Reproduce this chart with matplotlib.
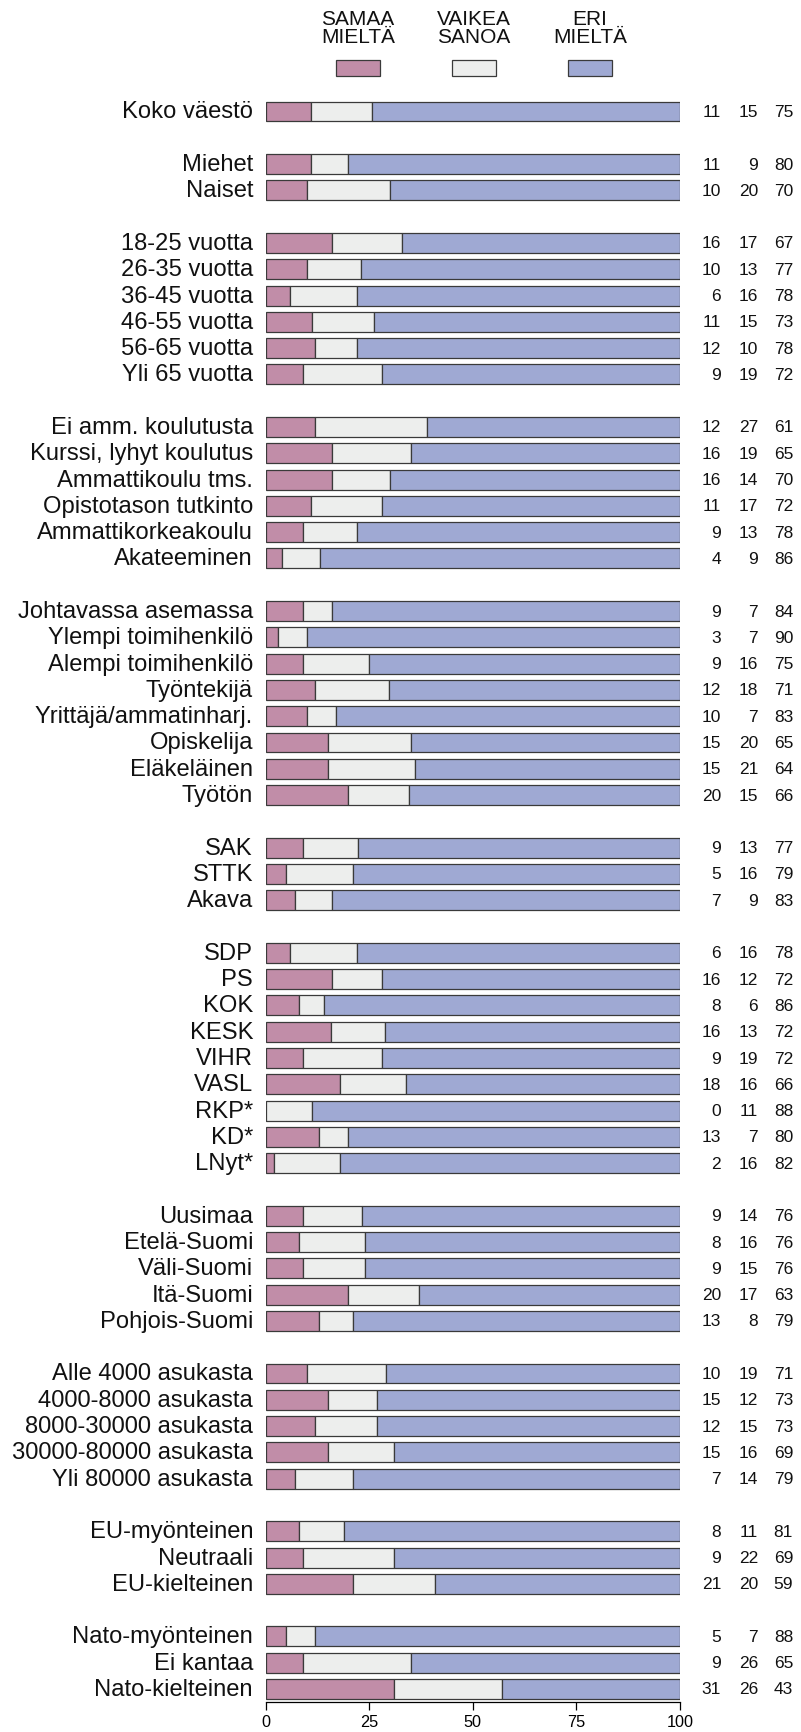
import numpy as np
import matplotlib
matplotlib.use("Agg")
import matplotlib.pyplot as plt
from matplotlib import font_manager
from matplotlib.patches import Rectangle
from matplotlib.transforms import blended_transform_factory


# groups of rows, separated by an empty slot
groups = [
    ["Koko väestö"],
    ["Miehet", "Naiset"],
    ["18-25 vuotta", "26-35 vuotta", "36-45 vuotta", "46-55 vuotta",
     "56-65 vuotta", "Yli 65 vuotta"],
    ["Ei amm. koulutusta", "Kurssi, lyhyt koulutus", "Ammattikoulu tms.",
     "Opistotason tutkinto", "Ammattikorkeakoulu", "Akateeminen"],
    ["Johtavassa asemassa", "Ylempi toimihenkilö", "Alempi toimihenkilö",
     "Työntekijä", "Yrittäjä/ammatinharj.", "Opiskelija", "Eläkeläinen",
     "Työtön"],
    ["SAK", "STTK", "Akava"],
    ["SDP", "PS", "KOK", "KESK", "VIHR", "VASL", "RKP*", "KD*", "LNyt*"],
    ["Uusimaa", "Etelä-Suomi", "Väli-Suomi", "Itä-Suomi", "Pohjois-Suomi"],
    ["Alle 4000 asukasta", "4000-8000 asukasta", "8000-30000 asukasta",
     "30000-80000 asukasta", "Yli 80000 asukasta"],
    ["EU-myönteinen", "Neutraali", "EU-kielteinen"],
    ["Nato-myönteinen", "Ei kantaa", "Nato-kielteinen"],
]

samaa = [11, 11, 10, 16, 10, 6, 11, 12, 9, 12, 16, 16, 11, 9, 4,
         9, 3, 9, 12, 10, 15, 15, 20, 9, 5, 7, 6, 16, 8, 16, 9, 18, 0, 13, 2,
         9, 8, 9, 20, 13, 10, 15, 12, 15, 7, 8, 9, 21, 5, 9, 31]
vaikea = [15, 9, 20, 17, 13, 16, 15, 10, 19, 27, 19, 14, 17, 13, 9,
          7, 7, 16, 18, 7, 20, 21, 15, 13, 16, 9, 16, 12, 6, 13, 19, 16, 11, 7, 16,
          14, 16, 15, 17, 8, 19, 12, 15, 16, 14, 11, 22, 20, 7, 26, 26]
eri = [75, 80, 70, 67, 77, 78, 73, 78, 72, 61, 65, 70, 72, 78, 86,
       84, 90, 75, 71, 83, 65, 64, 66, 77, 79, 83, 78, 72, 86, 72, 72, 66, 88, 80, 82,
       76, 76, 76, 63, 79, 71, 73, 73, 69, 79, 81, 69, 59, 88, 65, 43]

series_names = ["SAMAA\nMIELTÄ", "VAIKEA\nSANOA", "ERI\nMIELTÄ"]
colors = ["#C18DA8", "#EDEEED", "#9FA9D3"]
edge = "#3a3a3a"

available = {f.name for f in font_manager.fontManager.ttflist}
base_font = "Liberation Sans" if "Liberation Sans" in available else "DejaVu Sans"
narrow_font = "Liberation Sans Narrow" if "Liberation Sans Narrow" in available else base_font
plt.rcParams["font.family"] = [base_font, "DejaVu Sans"]

# row positions (slot index from top)
labels, ypos = [], []
slot = 0
for g in groups:
    for lab in g:
        labels.append(lab)
        ypos.append(slot)
        slot += 1
    slot += 1
ypos = np.array(ypos, dtype=float)

s = np.array(samaa, dtype=float)
v = np.array(vaikea, dtype=float)
e = np.array(eri, dtype=float)
tot = s + v + e
ps, pv, pe = s / tot * 100, v / tot * 100, e / tot * 100

W, H = 801, 1733
fig = plt.figure(figsize=(W / 100, H / 100), dpi=100)
x0, x1 = 265.5, 680.0
ytop, ybot = 100.0, 1703.0
ax = fig.add_axes([x0 / W, 1 - ybot / H, (x1 - x0) / W, (ybot - ytop) / H])

pitch = (1690 - 112.5) / 60
ax.set_ylim((ybot - 112.5) / pitch, (ytop - 112.5) / pitch)
ax.set_xlim(0, 100)

h = 0.76
ax.barh(ypos, ps, height=h, left=0, color=colors[0], edgecolor=edge, linewidth=0.9)
ax.barh(ypos, pv, height=h, left=ps, color=colors[1], edgecolor=edge, linewidth=0.9)
ax.barh(ypos, pe, height=h, left=ps + pv, color=colors[2], edgecolor=edge, linewidth=0.9)

for sp in ["top", "right", "left"]:
    ax.spines[sp].set_visible(False)
ax.spines["bottom"].set_linewidth(0.9)
ax.set_yticks([])
ax.set_xticks([0, 25, 50, 75, 100])
ax.tick_params(axis="x", length=6, width=0.9, labelsize=11.7, pad=3)

tr = blended_transform_factory(ax.transAxes, ax.transData)
col_x = [(px - x0) / (x1 - x0) for px in (721, 758, 793)]
for y, lab, a, b, c in zip(ypos, labels, samaa, vaikea, eri):
    ax.text((253 - x0) / (x1 - x0), y, lab, transform=tr, ha="right",
            va="center", fontsize=17.1, color="#111111")
    for cx, val in zip(col_x, (a, b, c)):
        ax.text(cx, y, str(val), transform=tr, ha="right", va="center",
                fontsize=12.5, color="#111111")

# legend
for name, col, cx in zip(series_names, colors, (358, 473.5, 590)):
    fig.patches.append(Rectangle(((cx - 22) / W, 1 - 76.7 / H), 44 / W, 16 / H,
                                 transform=fig.transFigure, facecolor=col,
                                 edgecolor=edge, linewidth=0.9))
    fig.text(cx / W, 1 - 47 / H, name, ha="center", va="bottom",
             fontsize=15, family=[narrow_font, "DejaVu Sans"],
             linespacing=0.95, color="#111111")

fig.savefig("out.png", dpi=100)
